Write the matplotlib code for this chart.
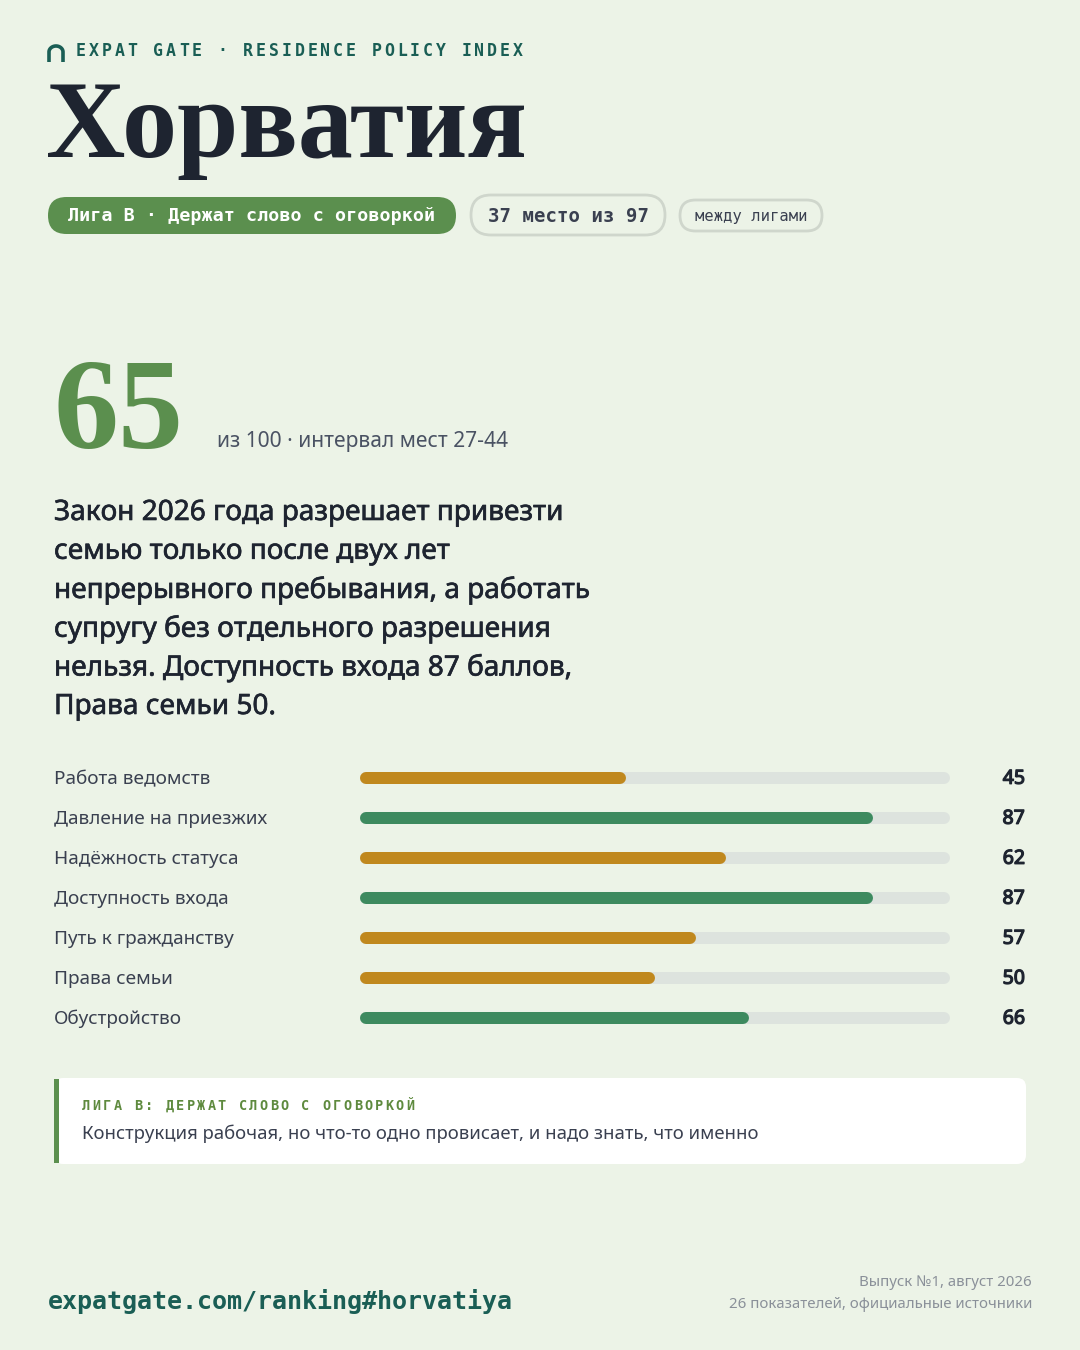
#!/usr/bin/env python
# Country card: Croatia, residence policy index

import matplotlib
matplotlib.use('Agg')
from matplotlib import pyplot as plt
from matplotlib.patches import FancyBboxPatch, Rectangle
from matplotlib import transforms
from matplotlib import patheffects as pe
import numpy as np

# --- data ---
country = 'Хорватия'
header = 'EXPAT GATE · RESIDENCE POLICY INDEX'
league_pill = 'Лига B · Держат слово с оговоркой'
rank_pill = '37 место из 97'
between_pill = 'между лигами'
score = 65
score_note = 'из 100 · интервал мест 27-44'
summary_lines = [
    'Закон 2026 года разрешает привезти',
    'семью только после двух лет',
    'непрерывного пребывания, а работать',
    'супругу без отдельного разрешения',
    'нельзя. Доступность входа 87 баллов,',
    'Права семьи 50.',
]
categories = ['Работа ведомств', 'Давление на приезжих', 'Надёжность статуса',
              'Доступность входа', 'Путь к гражданству', 'Права семьи', 'Обустройство']
values = [45, 87, 62, 87, 57, 50, 66]
# bar colour group: 'g' green, 'o' ochre
groups = ['o', 'g', 'o', 'g', 'o', 'o', 'g']
callout_title = 'ЛИГА B: ДЕРЖАТ СЛОВО С ОГОВОРКОЙ'
callout_text = 'Конструкция рабочая, но что-то одно провисает, и надо знать, что именно'
footer_url = 'expatgate.com/ranking#horvatiya'
footer_lines = ['Выпуск №1, август 2026', '26 показателей, официальные источники']

# colours
BG = '#ECF3E7'
INK = '#1E2430'
TEAL = '#1A5E55'
LEAGUE = '#5B8F4E'
BAR_COL = {'g': '#3D8A5F', 'o': '#C0881E'}
TRACK = '#DDE3DE'
GREY = '#4A5263'
SOFT = '#8A9099'

SANS = ['Noto Sans', 'DejaVu Sans']
MONO = ['DejaVu Sans Mono']
SERIF = ['Liberation Serif', 'DejaVu Serif']

W, H = 1080, 1350
fig = plt.figure(figsize=(W / 100, H / 100), dpi=100, facecolor=BG)
ax = fig.add_axes([0, 0, 1, 1])
ax.set_xlim(0, W)
ax.set_ylim(H, 0)
ax.axis('off')


def px(v):
    # pixels -> points
    return v * 72 / 100


def heavier(color, w):
    # Noto Sans is only the variable file here (regular), so thicken strokes
    return [pe.withStroke(linewidth=w, foreground=color)]


def spaced(x, y, s, step, **kw):
    # matplotlib has no letter spacing, so place glyph by glyph
    for i, ch in enumerate(s):
        ax.text(x + i * step, y, ch, ha='left', va='center', **kw)


# logo arch
t = np.linspace(0, np.pi, 40)
ax.plot(np.r_[49, 49 + 7 - 7 * np.cos(t), 63], np.r_[62, 52 - 6 * np.sin(t), 62],
        color=TEAL, lw=2.6, solid_capstyle='butt')

spaced(76, 51, header, 12.85, family=MONO, fontweight='bold',
       fontsize=px(16.5), color=TEAL)

ax.text(46, 157, country, family=SERIF, fontweight='bold', fontsize=px(110),
        color=INK, ha='left', va='baseline')

# pills
ax.add_patch(FancyBboxPatch((48, 197), 408, 37, boxstyle='round,pad=0,rounding_size=18.5',
                            fc=LEAGUE, ec='none'))
ax.text(252, 216, league_pill, family=MONO, fontweight='bold', fontsize=px(18.4),
        color='white', ha='center', va='center')
ax.add_patch(FancyBboxPatch((471, 195), 194, 40, boxstyle='round,pad=0,rounding_size=20',
                            fc='none', ec='#CFD6CC', lw=2))
ax.text(568, 216, rank_pill, family=MONO, fontweight='bold', fontsize=px(19),
        color='#3A4050', ha='center', va='center')
ax.add_patch(FancyBboxPatch((680, 200), 142, 31, boxstyle='round,pad=0,rounding_size=15.5',
                            fc='none', ec='#CFD6CC', lw=2))
ax.text(751, 216, between_pill, family=MONO, fontsize=px(15.5),
        color='#3A4050', ha='center', va='center')

# headline score
ax.text(54, 448, str(score), family=SERIF, fontweight='bold', fontsize=px(130),
        color=LEAGUE, ha='left', va='baseline')
ax.text(217, 447, score_note, family=SANS, fontsize=px(21), color=GREY,
        ha='left', va='baseline')

for i, line in enumerate(summary_lines):
    ax.text(54, 513 + i * 38.8, line, family=SANS, fontsize=px(28), color=INK,
            ha='left', va='center', path_effects=heavier(INK, 0.45))

# bars
bax = fig.add_axes([360 / W, 1 - 1038 / H, 590 / W, 280 / H])
bax.set_xlim(0, 100)
bax.set_ylim(len(values) - 0.5, -0.5)
bax.axis('off')
bax.patch.set_alpha(0)
rows = np.arange(len(values))
bar_px = 12
cap = (bar_px / 2) / 5.9  # round cap radius in data units
bax.hlines(rows, cap, 100 - cap, color=TRACK, lw=px(bar_px), capstyle='round')
for r, v, g in zip(rows, values, groups):
    bax.plot([cap, v - cap], [r, r], color=BAR_COL[g], lw=px(bar_px),
             solid_capstyle='round')

tr = transforms.blended_transform_factory(ax.transData, bax.transData)
for r, name, v in zip(rows, categories, values):
    bax.text(54, r + 0.03, name, transform=tr, family=SANS, fontsize=px(19),
             color='#3A4050', ha='left', va='center', clip_on=False)
    bax.text(1025, r + 0.02, str(v), transform=tr, family=SANS, fontsize=px(19.5),
             color=INK, ha='right', va='center', clip_on=False,
             path_effects=heavier(INK, 0.9))

# callout
ax.add_patch(FancyBboxPatch((54, 1078), 972, 86, boxstyle='round,pad=0,rounding_size=9',
                            fc='white', ec='none'))
ax.add_patch(Rectangle((54, 1079), 5, 84, fc=LEAGUE, ec='none'))
spaced(82, 1106, callout_title, 10.45, family=MONO, fontweight='bold',
       fontsize=px(13.5), color='#5E8A3E')
ax.text(82, 1134, callout_text, family=SANS, fontsize=px(18.5), color='#3A4050',
        ha='left', va='center')

# footer
ax.text(48, 1301, footer_url, family=MONO, fontweight='bold', fontsize=px(25),
        color=TEAL, ha='left', va='center')
ax.text(1032, 1282, footer_lines[0], family=SANS, fontsize=px(15), color=SOFT,
        ha='right', va='center')
ax.text(1032, 1305, footer_lines[1], family=SANS, fontsize=px(15), color=SOFT,
        ha='right', va='center')

fig.savefig('out.png', dpi=100, facecolor=BG)
